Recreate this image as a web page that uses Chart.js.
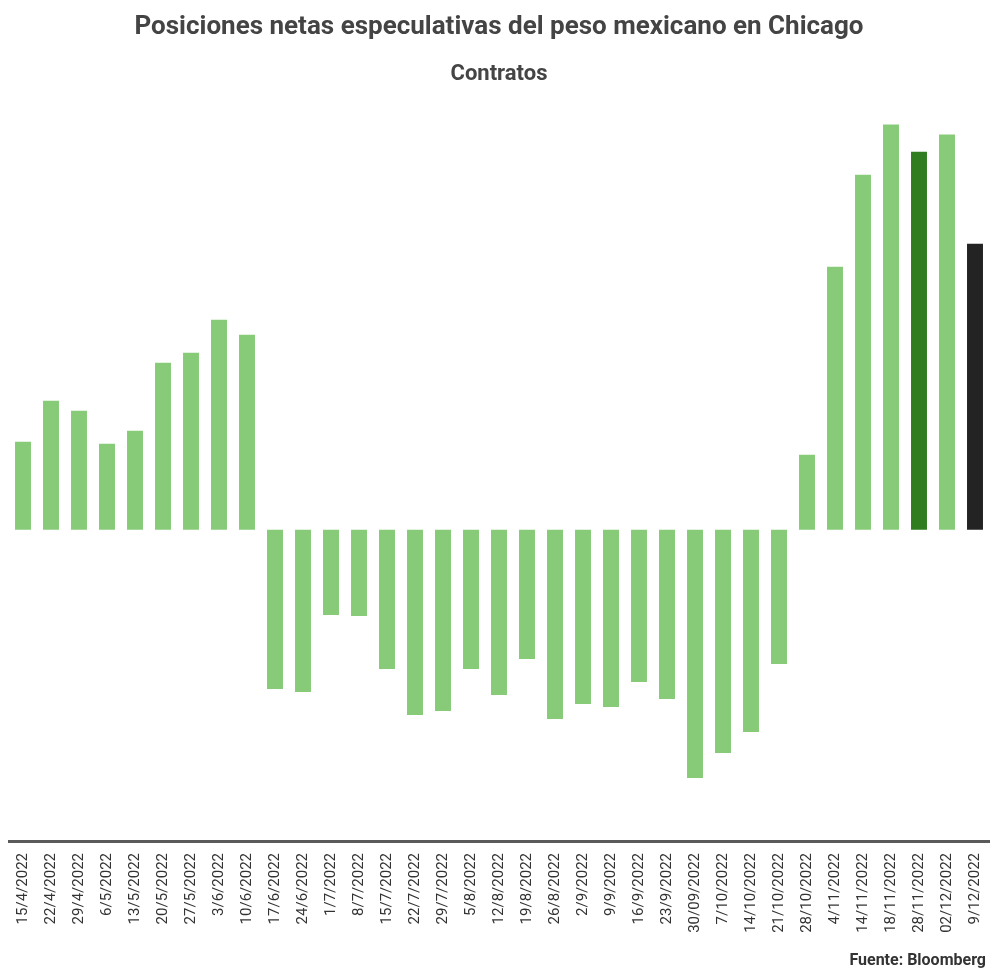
<!DOCTYPE html>
<html>
<head>
<meta charset="utf-8">
<script src="https://cdn.jsdelivr.net/npm/chart.js@4"></script>
<style>
  html, body { margin: 0; padding: 0; background: #fff; }
  #wrap { width: 1000px; height: 975px; position: relative; }
</style>
</head>
<body>
<div id="wrap"><canvas id="grafico"></canvas></div>
<script>
// fechas de reporte (CFTC)
const fechas = [
    '15/4/2022', '22/4/2022', '29/4/2022', '6/5/2022', '13/5/2022', '20/5/2022', '27/5/2022',
    '3/6/2022', '10/6/2022', '17/6/2022', '24/6/2022', '1/7/2022', '8/7/2022', '15/7/2022',
    '22/7/2022', '29/7/2022', '5/8/2022', '12/8/2022', '19/8/2022', '26/8/2022', '2/9/2022',
    '9/9/2022', '16/9/2022', '23/9/2022', '30/09/2022', '7/10/2022', '14/10/2022', '21/10/2022',
    '28/10/2022', '4/11/2022', '14/11/2022', '18/11/2022', '28/11/2022', '02/12/2022', '9/12/2022'
];

// posiciones netas (contratos), estimadas del gráfico
const posiciones = [
    8800, 12900, 11900, 8600, 9900, 16700, 17700, 21000, 19500,
    -15900, -16200, -8500, -8600, -13900, -18500, -18100, -13900, -16500, -12900,
    -18900, -17400, -17700, -15200, -16900, -24800, -22300, -20200, -13400,
    7500, 26300, 35500, 40500, 37800, 39500, 28600
];

const verdeClaro = '#87cb79';
const verdeOscuro = '#2f7d1f';
const negro = '#232323';
const colores = fechas.map((f, i) => {
    if (i === fechas.length - 1) return negro;
    if (i === fechas.length - 3) return verdeOscuro;
    return verdeClaro;
});

const fuentePlugin = {
    id: 'fuente',
    afterDraw(chart) {
        const c = chart.ctx;
        c.save();
        c.font = 'bold 16px Roboto';
        c.fillStyle = '#333';
        c.textAlign = 'right';
        c.textBaseline = 'middle';
        c.fillText('Fuente: Bloomberg', 986, 961);
        c.restore();
    }
};

const ctx = document.getElementById('grafico').getContext('2d');
const grafico = new Chart(ctx, {
    type: 'bar',
    data: {
        labels: fechas,
        datasets: [{
            label: 'Posiciones netas',
            data: posiciones,
            backgroundColor: colores,
            borderWidth: 0,
            categoryPercentage: 1,
            barPercentage: 0.57
        }]
    },
    options: {
        responsive: true,
        maintainAspectRatio: false,
        animation: false,
        layout: { padding: { left: 9, right: 11, bottom: 0, top: 0 } },
        plugins: {
            legend: { display: false },
            tooltip: { enabled: false },
            title: {
                display: true,
                text: 'Posiciones netas especulativas del peso mexicano en Chicago',
                color: '#444',
                font: { family: 'Roboto', size: 26, weight: 'bold' },
                padding: { top: 12, bottom: 18 }
            },
            subtitle: {
                display: true,
                text: 'Contratos',
                color: '#444',
                font: { family: 'Roboto', size: 22, weight: 'bold' },
                padding: { top: 0, bottom: 12 }
            }
        },
        scales: {
            x: {
                grid: { display: false },
                border: { display: true, color: '#5a5a5a', width: 3 },
                ticks: {
                    color: '#333',
                    font: { family: 'Roboto', size: 15 },
                    minRotation: 90,
                    maxRotation: 90,
                    autoSkip: false,
                    padding: 4
                },
                afterFit(scale) { scale.height = 134; }
            },
            y: {
                display: false,
                min: -31100,
                max: 43000
            }
        }
    },
    plugins: [fuentePlugin]
});
</script>
</body>
</html>
